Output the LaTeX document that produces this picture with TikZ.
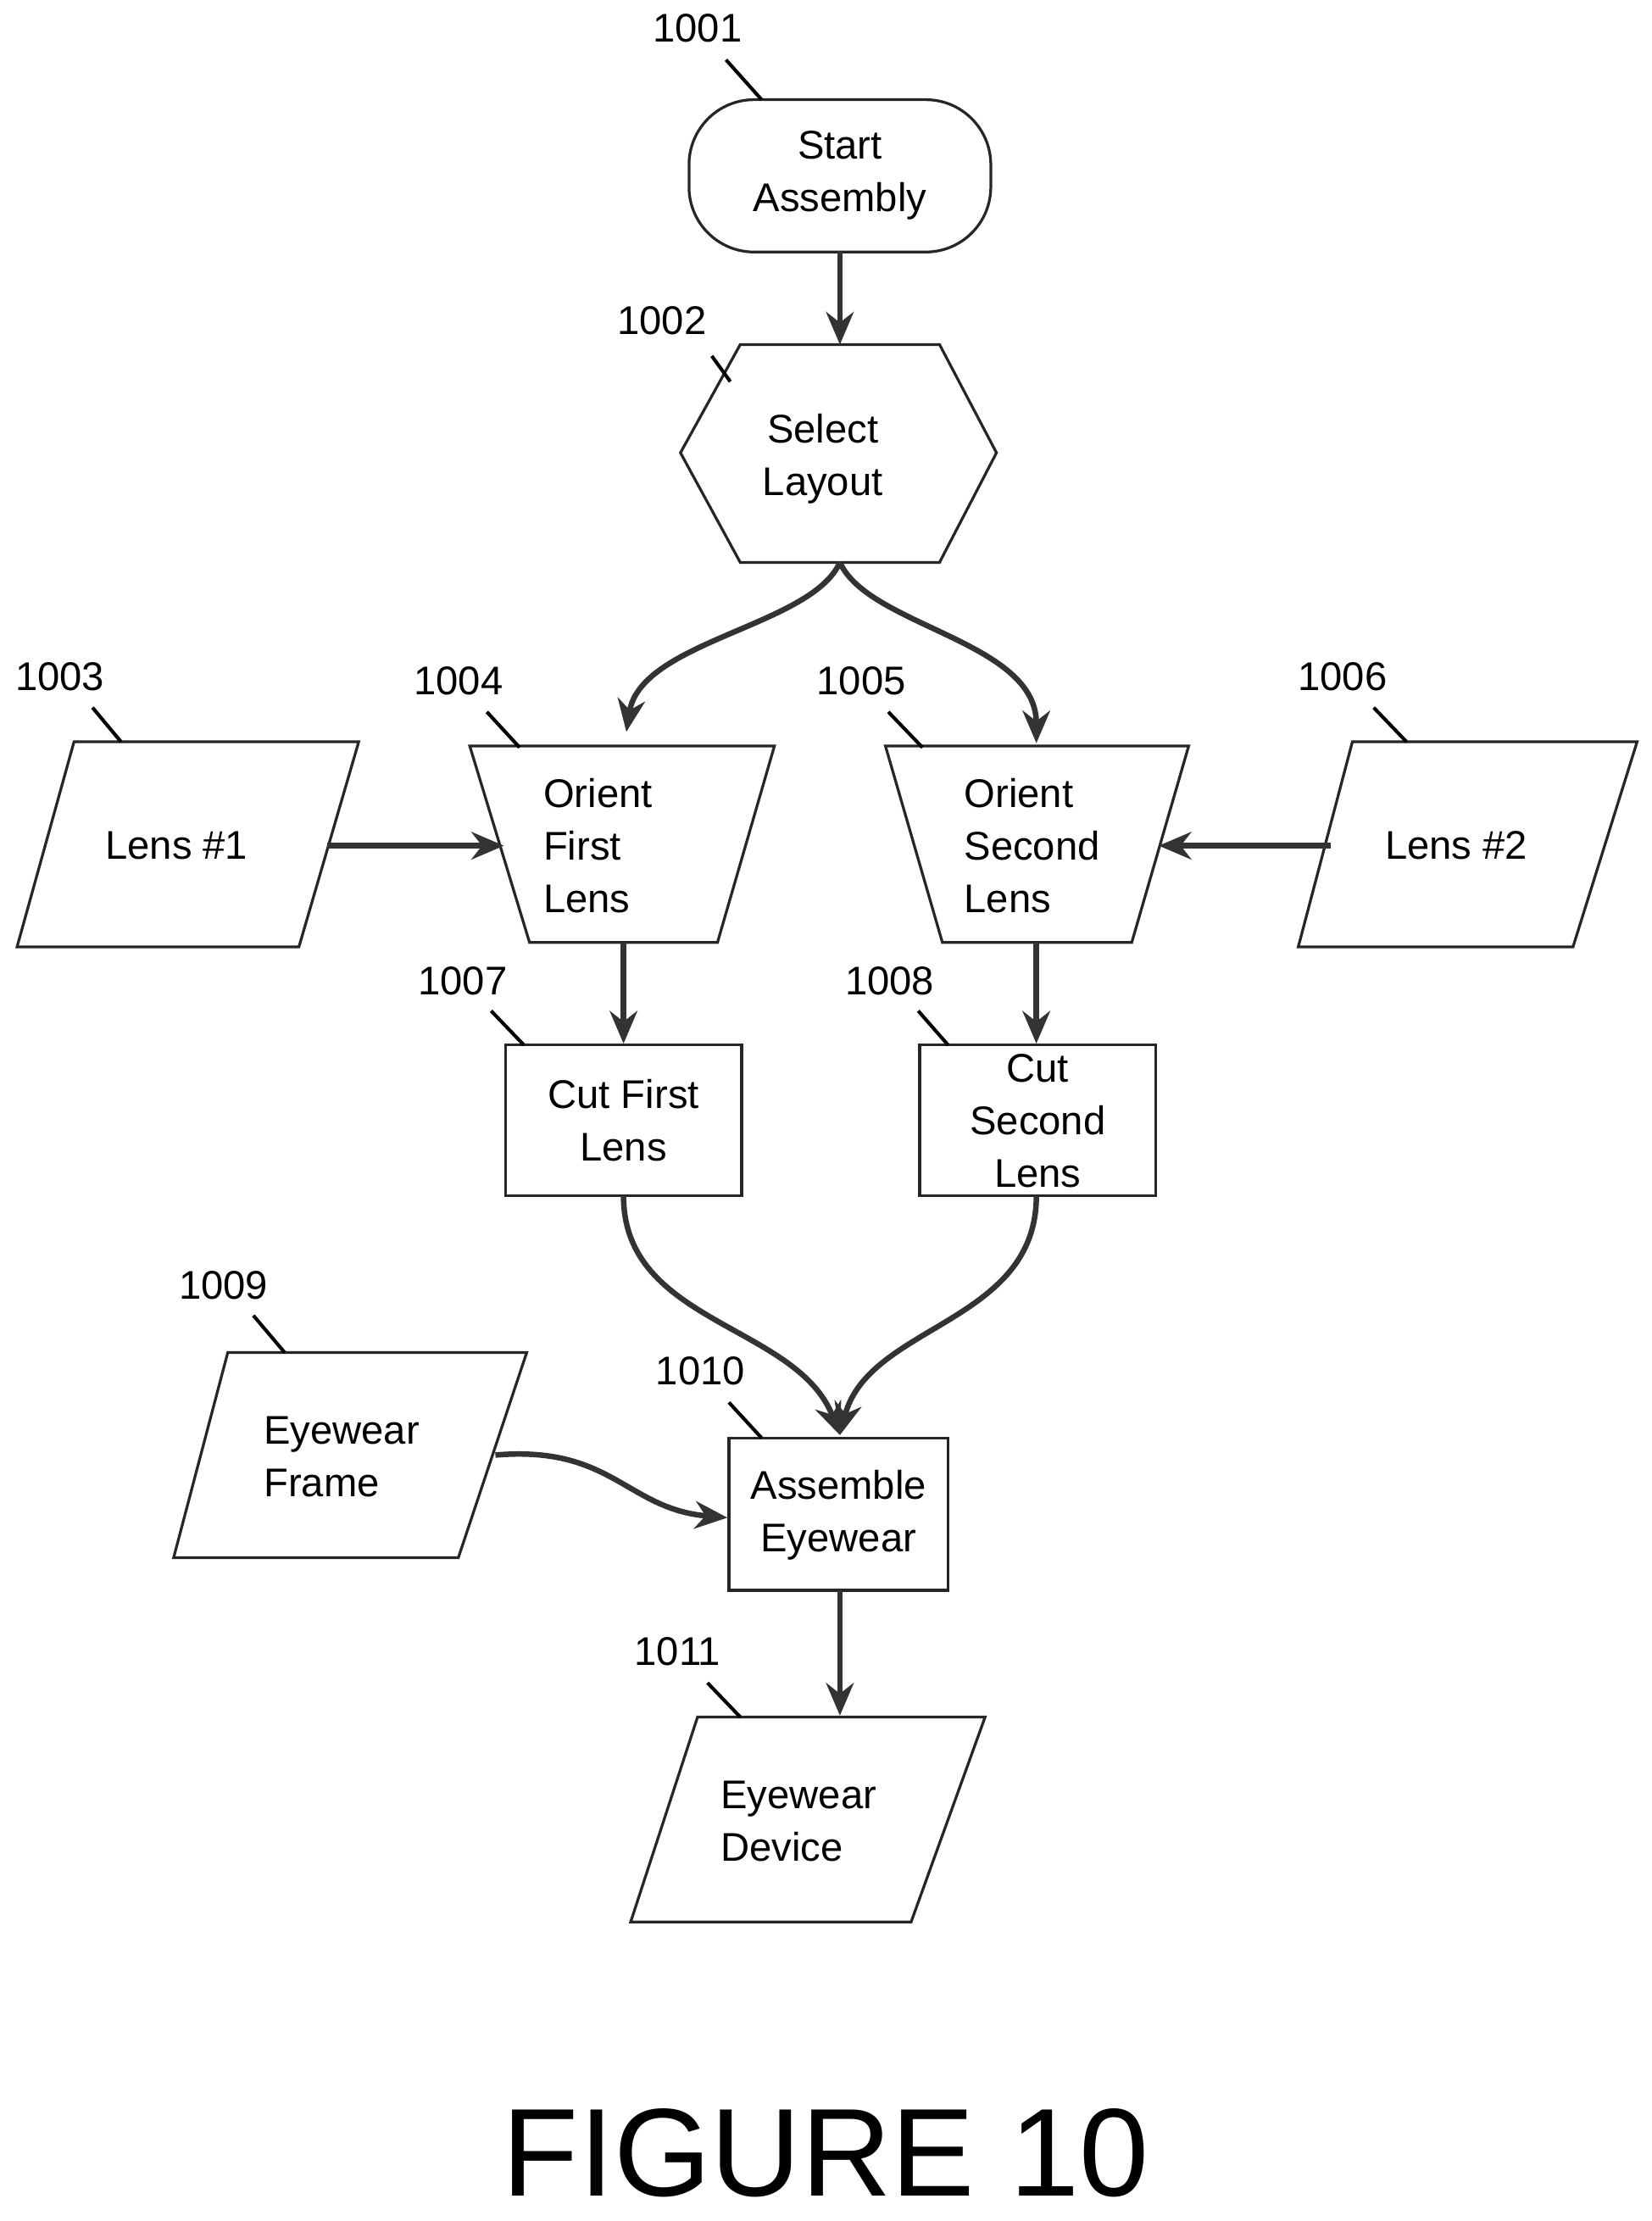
\documentclass[tikz,border=0pt]{standalone}
\usepackage{fontspec}
\setmainfont{Liberation Sans}
\usetikzlibrary{arrows.meta}
\begin{document}
\begin{tikzpicture}[x=0.02cm,y=-0.02cm,
  shp/.style={line width=1.1pt,black!85},
  arr/.style={line width=2.2pt,black!80,-{Stealth[length=13pt,width=11pt]}},
  lead/.style={line width=1.4pt},
  txt/.style={font=\fontsize{16}{21}\selectfont,align=center},
  lbl/.style={font=\fontsize{16}{18}\selectfont}]
\useasboundingbox (0,0) rectangle (1160,1560);
% shapes
\draw[shp,rounded corners=26pt] (484,70) rectangle (696,177);
\draw[shp] (478,318)--(520,242)--(660,242)--(700,318)--(660,395)--(520,395)--cycle;
\draw[shp] (52,521)--(252,521)--(210,665)--(12,665)--cycle;
\draw[shp] (330,524)--(544,524)--(504,662)--(372,662)--cycle;
\draw[shp] (622,524)--(835,524)--(795,662)--(662,662)--cycle;
\draw[shp] (950,521)--(1150,521)--(1105,665)--(912,665)--cycle;
\draw[shp] (355,734) rectangle (521,840);
\draw[shp] (646,734) rectangle (812,840);
\draw[shp] (160,950)--(370,950)--(322,1094)--(122,1094)--cycle;
\draw[shp] (512,1010) rectangle (666,1117);
\draw[shp] (490,1206)--(692,1206)--(640,1350)--(443,1350)--cycle;
% texts
\node[txt] (n1001) at (590,123) {Start\\Assembly};
\node[txt] (n1002) at (578,322) {Select\\Layout};
\node[txt] (n1003) at (124,594) {Lens \#1};
\node[txt,align=left] (n1004) at (420,594) {Orient\\First\\Lens};
\node[txt,align=left] (n1005) at (725,594) {Orient\\Second\\Lens};
\node[txt] (n1006) at (1023,594) {Lens \#2};
\node[txt] (n1007) at (438,787) {Cut First\\Lens};
\node[txt] (n1008) at (729,787) {Cut\\Second\\Lens};
\node[txt,align=left] (n1009) at (240,1023) {Eyewear\\Frame};
\node[txt] (n1010) at (589,1064) {Assemble\\Eyewear};
\node[txt,align=left] (n1011) at (561,1279) {Eyewear\\Device};
\node[font=\fontsize{50}{54}\selectfont] (fig) at (580,1512) {FIGURE 10};
% reference labels
\foreach \n/\x/\y/\ax/\ay/\bx/\by in {1001/490/20/510/42/535/70, 1002/465/225/500/250/513/268, 1003/42/475/65/497/85/521, 1004/322/478/342/500/365/525, 1005/605/478/624/500/648/525, 1006/943/475/965/497/988/521, 1007/325/689/345/710/368/734, 1008/625/689/645/710/666/734, 1009/157/903/178/924/200/950, 1010/492/963/512/985/535/1010, 1011/476/1160/497/1182/520/1206}{
  \node[lbl] (l\n) at (\x,\y) {\n};
  \coordinate (la\n) at (\ax,\ay); \coordinate (lb\n) at (\bx,\by);
  \draw[lead] (la\n)--(lb\n);}
% connector points
\coordinate (s1) at (590,177); \coordinate (t2) at (590,242);
\coordinate (s2) at (590,395);
\coordinate (t4) at (440,514); \coordinate (t5) at (728,522);
\coordinate (s3) at (230,594); \coordinate (t4l) at (354,594);
\coordinate (s6) at (935,594); \coordinate (t5r) at (814,594);
\coordinate (s4) at (438,662); \coordinate (t7) at (438,733);
\coordinate (s5) at (728,662); \coordinate (t8) at (728,733);
\coordinate (s7) at (438,840); \coordinate (s8) at (728,840);
\coordinate (t10) at (590,1008);
\coordinate (s9) at (348,1022); \coordinate (t10l) at (511,1066);
\coordinate (s10) at (590,1117); \coordinate (t11) at (590,1205);
\draw[arr] (s1)--(t2);
\draw[arr] (s2) .. controls (570,440) and (450,450) .. (t4);
\draw[arr] (s2) .. controls (610,440) and (728,450) .. (t5);
\draw[arr] (s3)--(t4l);
\draw[arr] (s6)--(t5r);
\draw[arr] (s4)--(t7);
\draw[arr] (s5)--(t8);
\draw[arr] (s7) .. controls (438,930) and (560,930) .. (t10);
\draw[arr] (s8) .. controls (728,930) and (610,930) .. (t10);
\draw[arr] (s9) .. controls (430,1015) and (440,1060) .. (t10l);
\draw[arr] (s10)--(t11);
\end{tikzpicture}
\end{document}
